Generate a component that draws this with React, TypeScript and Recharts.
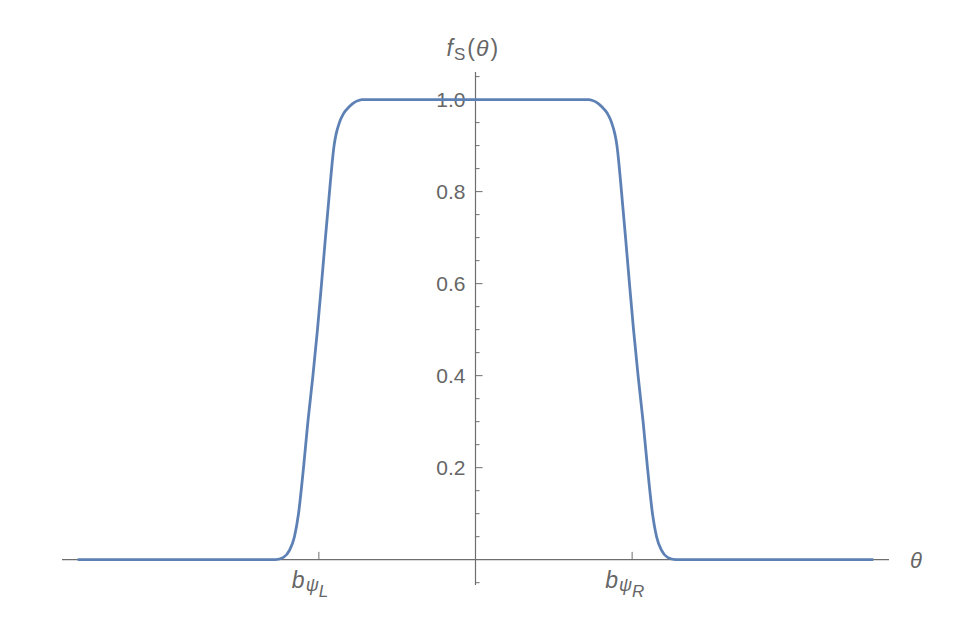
import { LineChart, Line, XAxis, YAxis, ReferenceLine } from 'recharts';

// curve: theta in units of b (b_psiL = -1, b_psiR = 1)
const thetaValues = [
  -2.54, -1.277, -1.226, -1.188, -1.156, -1.13, -1.098, -1.07, -1.038, -1.009,
  -0.983, -0.958, -0.932, -0.916, -0.903, -0.89, -0.869, -0.842, -0.805, -0.773, -0.747, -0.725,
  0.725, 0.747, 0.773, 0.805, 0.842, 0.869, 0.89, 0.903, 0.916, 0.932, 0.958, 0.983,
  1.009, 1.038, 1.07, 1.098, 1.13, 1.156, 1.188, 1.226, 1.277, 2.54,
];
const fsValues = [
  0, 0, 0.005, 0.02, 0.05, 0.1, 0.2, 0.3, 0.4, 0.5,
  0.6, 0.7, 0.8, 0.86, 0.9, 0.925, 0.95, 0.97, 0.985, 0.994, 0.998, 1,
  1, 0.998, 0.994, 0.985, 0.97, 0.95, 0.925, 0.9, 0.86, 0.8, 0.7, 0.6,
  0.5, 0.4, 0.3, 0.2, 0.1, 0.05, 0.02, 0.005, 0, 0,
];

const yMajorTicks = [0.2, 0.4, 0.6, 0.8, 1.0];
const yMajorLabels = ['0.2', '0.4', '0.6', '0.8', '1.0'];
const yMinorTicks = [
  -0.05, 0.05, 0.1, 0.15, 0.25, 0.3, 0.35, 0.45, 0.5, 0.55,
  0.65, 0.7, 0.75, 0.85, 0.9, 0.95, 1.05,
];
const xTicks = [-1, 1];
const xTickSubs = ['L', 'R'];

const data = thetaValues.map((theta, i) => ({ theta, fs: fsValues[i] }));

const AXIS = '#6e6e6e';
const TEXT = '#666666';
const CURVE = '#5e81b5';
const FONT = '"Liberation Sans", Arial, sans-serif';

export default function App() {
  return (
    <div style={{ position: 'absolute', left: 0, top: 0, width: 959, height: 635, background: '#fff' }}>
      <LineChart
        width={959}
        height={635}
        data={data}
        margin={{ top: 72, right: 70, bottom: 50, left: 62 }}
      >
        <XAxis dataKey="theta" type="number" domain={[-2.64, 2.64]} hide />
        <YAxis type="number" domain={[-0.055, 1.06]} hide />

        <ReferenceLine
          y={0}
          stroke={AXIS}
          strokeWidth={1.2}
          label={({ viewBox }: any) => (
            <text x={viewBox.x + viewBox.width + 21} y={viewBox.y + 8} fontFamily={FONT} fontSize={22} fontStyle="italic" fill={TEXT}>
              θ
            </text>
          )}
        />
        <ReferenceLine
          x={0}
          stroke={AXIS}
          strokeWidth={1.2}
          label={({ viewBox }: any) => (
            <text x={viewBox.x - 29} y={viewBox.y - 16} fontFamily={FONT} fontSize={23} fill={TEXT}>
              <tspan fontStyle="italic">f</tspan>
              <tspan fontSize={17} dx={1} dy={4}>S</tspan>
              <tspan dx={2} dy={-4}>(</tspan>
              <tspan fontStyle="italic" dx={1}>θ</tspan>
              <tspan dx={2}>)</tspan>
            </text>
          )}
        />

        {yMinorTicks.map(v => (
          <ReferenceLine key={'m' + v} segment={[{ x: 0, y: v }, { x: 0.026, y: v }]} stroke={AXIS} strokeWidth={1} />
        ))}
        {yMajorTicks.map((v, i) => (
          <ReferenceLine
            key={'M' + v}
            segment={[{ x: 0, y: v }, { x: 0.045, y: v }]}
            stroke={AXIS}
            strokeWidth={1}
            label={({ viewBox }: any) => (
              <text x={viewBox.x - 10} y={viewBox.y} dy="0.36em" textAnchor="end" fontFamily={FONT} fontSize={21} fill={TEXT}>
                {yMajorLabels[i]}
              </text>
            )}
          />
        ))}
        {xTicks.map((t, i) => (
          <ReferenceLine
            key={'x' + t}
            segment={[{ x: t, y: 0 }, { x: t, y: 0.017 }]}
            stroke={AXIS}
            strokeWidth={1}
            label={({ viewBox }: any) => (
              <text x={viewBox.x - 27} y={viewBox.y + viewBox.height + 28} fontFamily={FONT} fontSize={23} fontStyle="italic" fill={TEXT}>
                <tspan>b</tspan>
                <tspan fontSize={18} dx={1} dy={3}>ψ</tspan>
                <tspan fontSize={17} dy={6}>{xTickSubs[i]}</tspan>
              </text>
            )}
          />
        ))}

        <Line
          type="monotone"
          dataKey="fs"
          stroke={CURVE}
          strokeWidth={2.8}
          dot={false}
          isAnimationActive={false}
        />
      </LineChart>
    </div>
  );
}
